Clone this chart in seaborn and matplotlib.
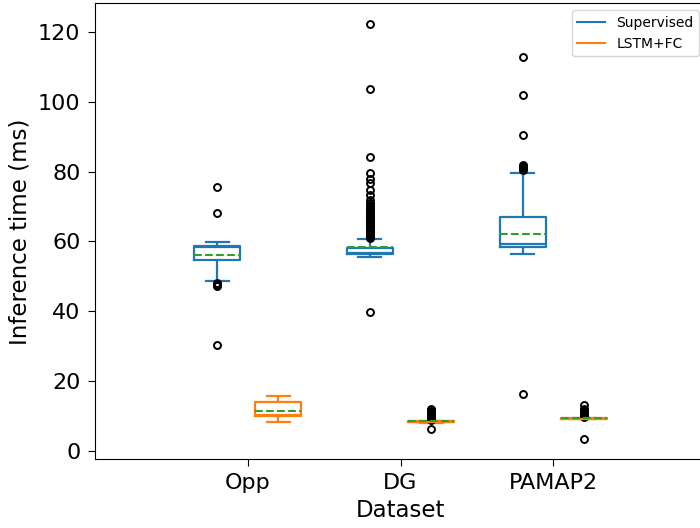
import numpy as np
import pandas as pd
import matplotlib
matplotlib.use("Agg")
import matplotlib.pyplot as plt
from matplotlib.lines import Line2D
import seaborn as sns

datasets = ["Opp", "DG", "PAMAP2"]
methods = ["Supervised", "LSTM+FC"]
colors = {"Supervised": "#1f77b4", "LSTM+FC": "#ff7f0e"}

# Inference times (ms): distinct values and how many samples take each value
opp_sup_values = [30.2, 47.2, 47.5, 47.8, 48.1, 48.6, 50.0, 51.5, 53.0, 54.0, 54.6,
                  55.6, 56.6, 57.6, 58.4, 58.6, 58.8, 59.1, 59.4, 59.8, 68.2, 75.6]
opp_sup_counts = [1, 1, 1, 1, 1, 3, 3, 3, 3, 3, 4,
                  5, 5, 6, 8, 12, 6, 6, 4, 3, 1, 1]

dg_sup_values = [39.8, 55.4, 55.8, 56.1, 56.3, 56.45, 56.6, 57.8, 58.1, 59.5, 60.2, 60.6,
                 61.0, 61.2, 61.3, 61.6, 61.8, 61.9, 62.2, 62.4, 62.5, 62.8, 63.0, 63.1,
                 63.4, 63.6, 63.7, 64.0, 64.2, 64.3, 64.6, 64.8, 64.9, 65.2, 65.4, 65.5,
                 65.8, 66.0, 66.1, 66.5, 66.9, 67.0, 67.3, 67.7, 68.1, 68.5, 69.0, 69.5,
                 70.0, 70.5, 71.0, 71.8, 73.2, 74.7, 76.6, 78.0, 79.5, 84.2, 103.7, 122.3]
dg_sup_counts = [1, 14, 30, 45, 45, 45, 45, 45, 30, 5, 5, 3] + [1] * 48

pamap_sup_values = [16.2, 56.3, 57.0, 57.6, 58.2, 58.5, 58.7, 59.0, 59.2, 59.4, 59.9,
                    60.7, 62.7, 65.2, 67.1, 67.5, 68.7, 70.7, 73.7, 76.7, 79.7,
                    80.6, 80.9, 81.2, 81.5, 81.9, 90.5, 102.0, 112.7]
pamap_sup_counts = [1, 4, 8, 12, 15, 10, 15, 15, 12, 12, 8,
                    4, 2, 2, 4, 12, 8, 4, 3, 1, 1,
                    1, 1, 1, 1, 1, 1, 1, 1]

opp_lstm_values = [8.3, 8.8, 9.3, 9.7, 10.0, 10.1, 10.3, 11.2, 12.2, 13.2, 14.0, 14.4, 15.0, 15.7]
opp_lstm_counts = [2, 2, 3, 3, 4, 6, 4, 2, 2, 2, 3, 3, 3, 2]

dg_lstm_values = [6.2, 8.1, 8.2, 8.25, 8.28, 8.3, 8.35, 8.4, 8.5, 8.6,
                  8.8, 9.0, 9.2, 9.4, 9.6, 9.8, 10.0, 10.2, 10.4, 10.6, 10.8,
                  11.0, 11.2, 11.4, 11.6, 11.8, 12.0]
dg_lstm_counts = [1, 19, 40, 30, 30, 30, 30, 20, 14, 10] + [1] * 17

pamap_lstm_values = [3.5, 9.0, 9.1, 9.15, 9.18, 9.2, 9.25, 9.3, 9.4, 9.5,
                     9.7, 10.0, 10.3, 10.6, 10.9, 11.2, 11.5, 11.8, 12.1, 13.0]
pamap_lstm_counts = [1, 19, 40, 30, 30, 30, 30, 20, 19, 12] + [1] * 10

groups = [
    ("Opp", "Supervised", opp_sup_values, opp_sup_counts),
    ("DG", "Supervised", dg_sup_values, dg_sup_counts),
    ("PAMAP2", "Supervised", pamap_sup_values, pamap_sup_counts),
    ("Opp", "LSTM+FC", opp_lstm_values, opp_lstm_counts),
    ("DG", "LSTM+FC", dg_lstm_values, dg_lstm_counts),
    ("PAMAP2", "LSTM+FC", pamap_lstm_values, pamap_lstm_counts),
]
frames = []
for ds, m, vals, cnts in groups:
    t = np.repeat(np.asarray(vals, float), np.asarray(cnts, int))
    frames.append(pd.DataFrame({"Dataset": ds, "Method": m, "Inference time (ms)": t}))
df = pd.concat(frames, ignore_index=True)

fig = plt.figure(figsize=(7, 5.28), dpi=100)
ax = fig.add_axes([95 / 700, 1 - 459.3 / 528, 611 / 700, (459.3 - 3.4) / 528])

sns.boxplot(
    data=df, x="Dataset", y="Inference time (ms)", hue="Method",
    order=datasets, hue_order=methods, palette=colors,
    fill=False, width=0.8, gap=0.25, linewidth=1.6, whis=1.5,
    showmeans=True, meanline=True,
    meanprops=dict(color="#2ca02c", linestyle="--", linewidth=1.5),
    flierprops=dict(marker="o", markersize=5, markerfacecolor="none",
                    markeredgecolor="black", markeredgewidth=1.4),
    legend=False, ax=ax,
)

ax.set_xlim(-1, 3)
ax.set_ylim(-2.44, 128.2)
ax.set_yticks([0, 20, 40, 60, 80, 100, 120])
ax.tick_params(axis="both", labelsize=16, length=5, pad=5.5)
ax.tick_params(axis="x", pad=5)
ax.set_xlabel("Dataset", fontsize=16.5, labelpad=4)
ax.set_ylabel("Inference time (ms)", fontsize=16.5, labelpad=4.5)
for s in ax.spines.values():
    s.set_visible(True)
    s.set_color("black")

handles = [Line2D([], [], color=colors[m], lw=1.5) for m in methods]
ax.legend(handles, methods, loc="upper right", fontsize=10)

fig.savefig("out.png", dpi=100)
